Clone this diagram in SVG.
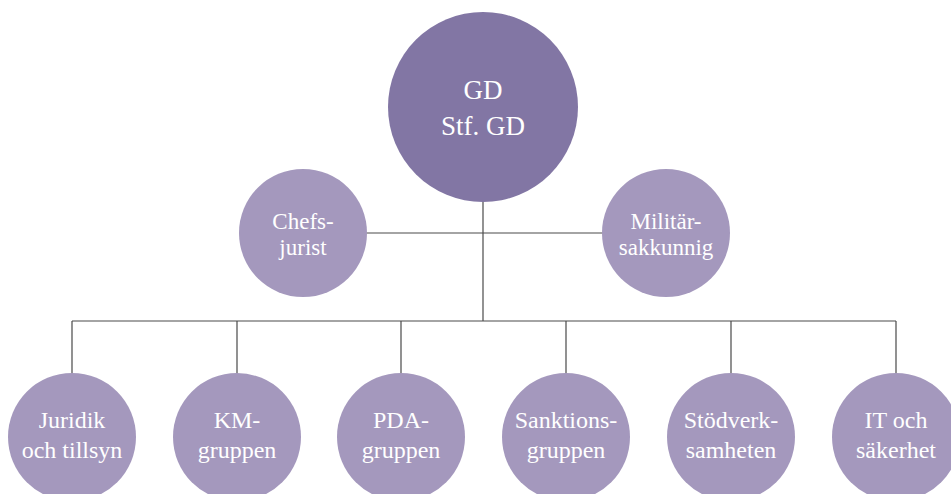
<svg xmlns="http://www.w3.org/2000/svg" width="951" height="494" viewBox="0 0 951 494">
<style>
.c1{fill:#8276a4}
.c2{fill:#a498bd}
.ln{stroke:#4a4a4a;stroke-width:1.2;fill:none}
.tx{font-family:'Liberation Serif','DejaVu Serif',serif;fill:#ffffff;text-anchor:middle}
.t1{font-size:27px}
.t2{font-size:23px}
.t3{font-size:24px}
</style>
<rect width="951" height="494" fill="#ffffff"/>
<g id="connectors" class="ln">
<path d="M483 200V321"/>
<path d="M366 233H603"/>
<path d="M72 321H896"/>
<path d="M72 321V374M237 321V374M401 321V374M566 321V374M731 321V374M896 321V374"/>
</g>
<g id="gd"><circle class="c1" cx="483" cy="107" r="95"/><text class="tx t1" x="483" y="99">GD</text><text class="tx t1" x="483" y="135">Stf. GD</text></g>
<g id="chefsjurist"><circle class="c2" cx="303" cy="233" r="64"/><text class="tx t2" x="303" y="229">Chefs-</text><text class="tx t2" x="303" y="255">jurist</text></g>
<g id="militar"><circle class="c2" cx="666" cy="233" r="64"/><text class="tx t2" x="666" y="229">Militär-</text><text class="tx t2" x="666" y="255">sakkunnig</text></g>
<g id="juridik"><circle class="c2" cx="72" cy="437" r="64"/><text class="tx t3" x="72" y="428">Juridik</text><text class="tx t3" x="72" y="458">och tillsyn</text></g>
<g id="km"><circle class="c2" cx="237" cy="437" r="64"/><text class="tx t3" x="237" y="428">KM-</text><text class="tx t3" x="237" y="458">gruppen</text></g>
<g id="pda"><circle class="c2" cx="401" cy="437" r="64"/><text class="tx t3" x="401" y="428">PDA-</text><text class="tx t3" x="401" y="458">gruppen</text></g>
<g id="sanktions"><circle class="c2" cx="566" cy="437" r="64"/><text class="tx t3" x="566" y="428">Sanktions-</text><text class="tx t3" x="566" y="458">gruppen</text></g>
<g id="stodverk"><circle class="c2" cx="731" cy="437" r="64"/><text class="tx t3" x="731" y="428">Stödverk-</text><text class="tx t3" x="731" y="458">samheten</text></g>
<g id="it"><circle class="c2" cx="896" cy="437" r="64"/><text class="tx t3" x="896" y="428">IT och</text><text class="tx t3" x="896" y="458">säkerhet</text></g>
</svg>
